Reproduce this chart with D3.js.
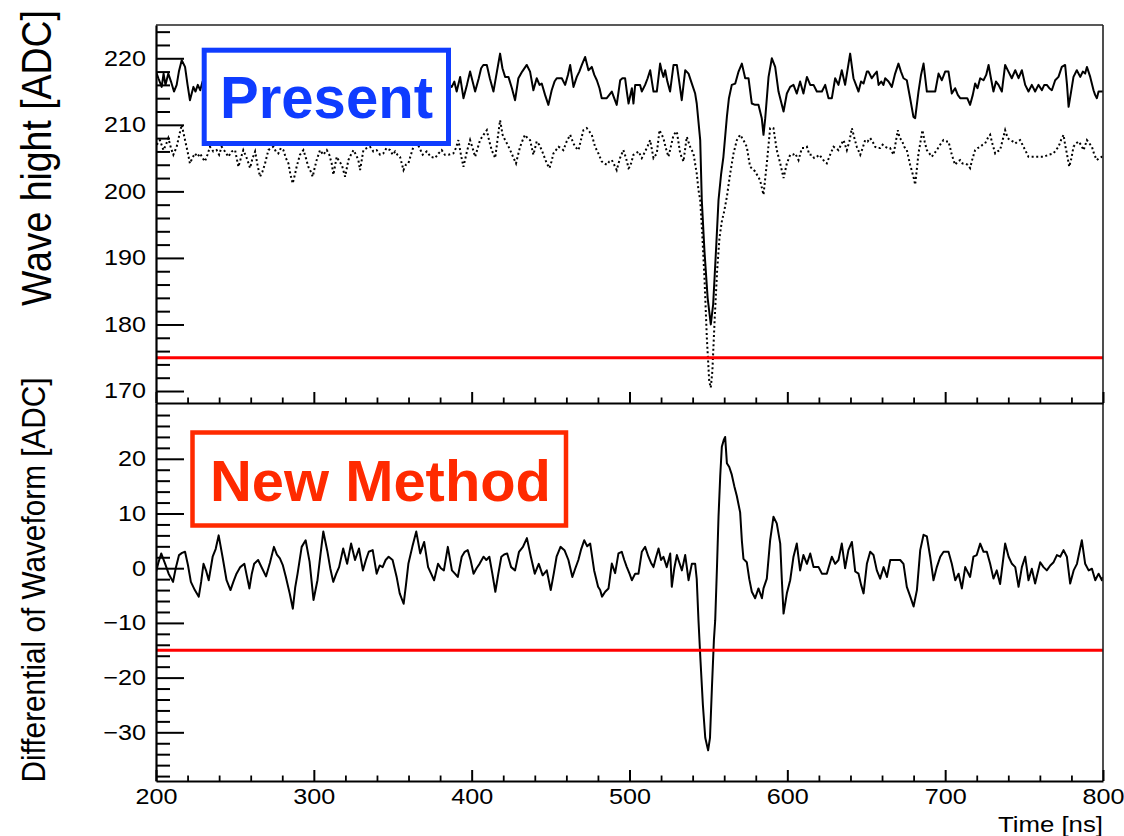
<!DOCTYPE html>
<html><head><meta charset="utf-8">
<script src="https://cdn.jsdelivr.net/npm/d3@7"></script>
<style>
body{margin:0;background:#fff}
svg{display:block}
text{font-family:"Liberation Sans",Arial,Helvetica,sans-serif;fill:#000}
</style>
</head><body>
<svg id="chart" width="1124" height="836"></svg>
<script>
// ---------------- data ----------------
// time [ns], wave height [ADC] : solid waveform (upper panel)
const waveSolid = [
[200,218],[201.5,217],[203.6,215.7],[204.8,217.7],[206,216],[207.8,217.7],[209.5,216.5],[211.4,215],[213.1,216],[214.5,218],
[216.3,219.7],[218.4,218.7],[220,216],[221.5,213.7],[223.7,215.7],[225,215],[226.5,216],[228,215.2],[229.5,216.5],
[231,215],[234,217],[237,218],[240,216],[243,214.5],[246,216],[249,218.5],[252,217],[255,215],[258,216],[261,218],[264,219],
[267,216.5],[270,214],[273,215.5],[276,217],[279,218],[282,216],[285,213.5],[288,215],[291,217.5],[294,219],[297,217],[300,215],
[303,216.5],[306,218.5],[309,217],[312,214.5],[315,216],[318,218],[321,217],[324,215.5],[327,216.5],[330,218],[333,216],[336,214],
[339,215.5],[342,217.5],[345,218.5],[348,216.5],[351,215],[354,216],[357,218],[360,219],[363,217],[366,215],[369,216],[372,217.5],
[375,216],[378,214.5],[381,216],[384,217],[386,216],
[387.4,215.7],[389,216.5],[390.5,215],[392.7,217.2],[394.8,214],[397,216],[399,218],[400.6,216.5],[402.2,215],[404.5,217],
[406,218.5],[407.4,219],[409.6,219],[411.5,217],[413.8,215],[416,218],[418,220.7],[419.5,218.5],[421.2,217.2],[423.3,217.2],
[425.5,215.5],[427.5,213.7],[429.6,217],[432,218],[434.9,219],[437,218],[439.1,215.2],[441.2,217],[443,216],[444.4,216.2],
[446.5,214.5],[448.6,213],[450.7,215.2],[452.5,216.5],[453.9,217],[455.5,217],[457.1,217],[459.2,216],[461,217.5],[462.4,219],
[464.5,215.7],[466.6,217.2],[468.2,218],[469.8,219],[471.9,220.2],[474,218.2],[476.1,218.7],[477.7,217.5],[479.3,216.7],[481,215.5],
[482.4,214],[484,214],[485.6,214],[487.2,214.5],[488.8,215],[490.3,214],[491.9,213],[494.1,216.7],[495.5,217],[497.2,217],
[498.3,215],[499.4,213.2],[501.5,215.5],[502.5,213.2],[503.6,216],[505.5,216],[506.7,216],[507.8,215],[509.9,216],[511.5,217],
[513.1,218.2],[514.2,216.5],[515.2,215],[517.3,215],[519.4,219.2],[520.5,218],[521.5,217.2],[522.6,218.2],[524,216.5],[525.7,215],
[527.9,219],[530,219],[531.5,216.5],[533.1,213.7],[535.3,218.2],[537.4,217.7],[539.5,216.2],[541.6,214.7],[542.6,213.2],[544.8,207.7],
[545.8,198.7],[547.5,191],[549.5,184],[551.5,180],[553,183],[555,192],[556.4,198.7],[558,202.5],[559.5,205.2],[561.7,211.2],
[563,214],[564.8,216],[567,216.2],[569.1,218],[571.2,219.2],[573.3,217],[575.4,217],[577.5,213.2],[579.6,213],[581.7,213],
[583.8,211],[584.9,208.5],[586,211],[588.1,217.2],[590.2,220],[592.3,218.7],[594.4,215],[596,213.5],[597.6,212],[599.7,214.7],
[601.8,215.7],[603.9,216],[606,214.7],[608.1,216.5],[610.2,214.7],[612.4,217.2],[614.5,216],[616.6,216],[618.7,215],[621.9,215],
[624,216],[626.1,214],[628.2,214],[630.3,217],[632.4,216],[634.5,218.2],[636.6,216],[639.8,220.7],[641.9,217],[643.5,216],
[645.1,215],[646.7,216.5],[648.3,216.2],[650.4,218],[651.4,218],[653.5,217],[655,217.5],[656.7,218],[657.8,216],[659.5,216.5],
[660.9,216],[662,217],[664.1,216.5],[666.2,215.7],[668.3,217.7],[670.4,219.2],[672,218],[673.6,217],[675.7,216.7],[677.8,214],
[679.9,211.2],[681,211],[683.1,215],[684.7,217.5],[686.3,219.2],[688.4,215],[691.5,215],[693.7,215],[695.8,217.7],[697.9,216.7],
[700,218],[702.1,218],[704.2,214.7],[706.3,215.5],[708,214.5],[709.5,214],[712.7,214],[714,214],[715.8,213],[717.5,214.5],
[719,216.2],[720.5,215.5],[722.2,217],[724.3,216.7],[726,217.5],[727.5,219],[729,217],[730.6,215],[732.2,216.5],[733.8,216],
[735.9,215],[738,219],[740.1,218],[742.2,217],[744.4,218.2],[746.5,217],[748.6,218.2],[750.7,216],[752.8,215],[754.9,216],
[757,215],[759.1,216],[761.3,215.2],[762.8,216],[764.4,216],[766,215.5],[767.6,215.2],[769.7,216.7],[771.8,217.2],[773.9,218.7],
[776,219],[777.2,216],[778.2,212.7],[779.8,215],[781.3,217.2],[783.4,218.2],[785.6,217.2],[787.2,218],[788.7,217.7],[789.8,218.7],
[791.9,217.2],[794,215.2],[795,214.5],[796.1,214],[797.2,215],[798.2,215],[800,215]
];
// time [ns], wave height [ADC] : dotted waveform (upper panel)
const waveDotted = [
[200.5,207],[202.5,207.7],[204.7,206.2],[206.3,207],[207.8,208],[209.5,206.5],[211,205.5],[213.1,206.7],[214.8,208.5],[216.3,210],
[218.4,207.7],[220,206],[221.5,204.2],[223,205],[224.7,205.7],[226.3,205.2],[227.9,205.7],[229.5,205],[231,204.5],[232.6,205.5],
[234.2,206.7],[236.3,206],[238.4,206.2],[240,205.5],[241.6,206.7],[243.7,206],[245.8,205.2],[248,206],[250.1,206.2],[252.2,203.7],
[253.8,205],[255.3,206.2],[257.5,205],[259.6,203.5],[261.2,205],[262.8,206],[264.3,204],[265.9,202.2],[267.5,203],[269.1,204.2],
[271.2,206.2],[272.8,206.5],[274.4,206.7],[275.9,206],[277.5,205.7],[279.1,206.5],[280.7,206.2],[282.3,205],[283.9,204.2],[285.2,202.5],
[286.6,201.2],[288,202.5],[289.1,203.7],[291.2,205.5],[293.4,206.2],[295,205],[296.5,203.7],[298,203],[299.3,202.2],[300.5,203.5],
[301.8,204.7],[303.9,206.2],[306,205.5],[308.2,206.2],[309.8,205.5],[311.3,204.2],[312.4,202.5],[314.5,205.2],[316.1,204.5],[317.7,204],
[319.8,202.2],[321.9,204.7],[323.5,205.5],[325.1,206.2],[326.7,205.5],[328.2,204.7],[329.3,203.2],[331.4,206.2],[333.5,206.5],[335.6,206.7],
[337.7,206],[339.8,206.2],[342,205.5],[344,205.7],[346,206.5],[348.3,206.2],[350,205.5],[351.5,206],[353,205.5],[354.6,205.2],
[356.8,203.2],[358.3,204],[359.9,204.2],[361.5,205.5],[363.1,206.7],[365,207.5],[367,206.5],[369,205.5],[371.5,206],[374,205.2],
[376.8,205],[379,205.7],[381,206.2],[383,205.5],[385.3,205.5],[388.4,205.7],[390,206.5],[391.6,207.7],[393.2,205.5],[394.8,203.7],
[397,206],[399,207.7],[400.6,206.5],[402.2,205.2],[403.8,206.5],[405.3,207.7],[407.5,208.5],[409.6,209.2],[411.2,207.5],[412.7,206.2],
[414.9,205],[416.5,208],[418,210.7],[419.6,208.5],[421.2,207.7],[422.8,207],[424.4,206.2],[426.2,205.2],[428.1,204.2],[429.4,205.5],
[430.7,206.7],[432.3,207.7],[433.8,208.5],[435.4,208],[437,207.7],[439.1,205.5],[441.2,207.5],[442.8,207],[444.4,206.2],[446,205.2],
[447.6,204.2],[449.3,203.5],[450.6,204.5],[451.8,205.7],[453.4,206.2],[455,206.7],[456.5,206.5],[458.1,206.2],[460.2,207.5],[462.4,208.5],
[464,207.5],[465.5,206.7],[467.7,206.2],[469.2,207.7],[470.8,209.2],[472.9,209.5],[474.5,209],[476.1,208.5],[478.2,206.7],[480.3,205.7],
[482.4,204.5],[484,204.2],[485.6,204],[487.2,204.5],[488.8,204.7],[490.3,204],[491.9,203.2],[494,205],[496.1,206.2],[497.8,205],
[499.4,203.5],[500.4,203.7],[502.5,205.5],[504,205.7],[505.7,206],[507.8,205],[509.9,206],[511.5,206.8],[513.1,207.7],[515.2,205],
[517.3,205.7],[519,209.2],[521.5,208],[523,206.5],[524.7,205.2],[526.3,206.8],[527.9,208.5],[530,209],[532.1,205.7],[534.2,204.5],
[536.3,208.2],[538.4,206.7],[540.5,205.7],[542.6,202.7],[543.7,200.2],[544.8,198.7],[546,194],[547.5,187],[549,178],[550.5,171.5],
[551.5,170.5],[552.5,173],[554,181],[555.5,188],[557,193],[558.5,195.5],[560,197],[561.7,199.2],[563.8,202.7],[565.9,205.7],
[568,207.7],[570.1,208.5],[572.2,207.7],[574.3,206.7],[576.4,203.7],[579.6,203],[582.7,201.7],[584.9,199.5],[587,204.2],[589.1,209.5],
[591.2,209.5],[593.3,206.2],[595.5,204.2],[597.6,202],[599.7,204.2],[601.8,205.5],[603.5,205.5],[605,205.7],[607.1,204.7],[609.2,206.5],
[610.8,206.5],[612.4,206.7],[614,205.5],[615.5,205.5],[617,205],[618.7,205.2],[620.3,205.5],[621.9,205],[623.5,204.5],[625,204.2],
[627.1,205.5],[629.3,206.7],[630.8,206.5],[632.4,206.2],[634,207],[635.6,207.7],[637.7,206.2],[639.3,207.5],[640.9,209.5],[642.5,208],
[644,206.7],[646.2,205.5],[647.7,206.5],[649.3,207.7],[650.9,207.5],[652.5,208],[654,207.5],[655.6,206.7],[657.2,206.5],[658.8,206.5],
[660.4,207],[662,206.7],[663.6,206.5],[665.1,206.5],[667.3,205.5],[670,209.2],[671.2,208],[672.5,207.7],[674.1,206.7],[675.7,206.2],
[677.8,204],[679.9,202.2],[681,201],[683.1,205.7],[684.4,207.5],[685.6,209.2],[687,207.5],[688.4,206.2],[690,205.7],[691.5,205.2],
[693.1,205.7],[694.7,206.2],[696.8,207],[698.9,207.7],[700.5,207.5],[702.1,207.5],[703.2,206.5],[704.2,205.5],[706.3,204],[708,204.5],
[709.5,204.7],[711,204.2],[712.7,204.2],[714.3,204],[715.8,203.5],[717.4,205],[719,206.2],[720.6,206.5],[722.2,206.7],[723.7,207],
[725.3,207.2],[727,208],[728.5,208.5],[730.1,207],[731.7,205.7],[733.2,206],[734.8,206.2],[736.4,207.7],[738,209.2],[739.6,208],
[741.2,207.7],[742.8,207.5],[744.4,207.2],[746,207.5],[747.5,207.7],[749,207],[750.7,206.2],[752.8,205.2],[756,205.2],[759.1,205.2],
[762.3,205.2],[765.5,205.5],[768.6,205.7],[770.2,206.2],[771.8,206.7],[773.4,207.7],[775,208.5],[776,207],[777.1,205.7],[778.6,203.7],
[780,205],[781.3,206.7],[782.9,207.2],[784.5,207.5],[786,207],[787.7,206.2],[789.8,207.7],[791.4,207.2],[793,206.7],[794.5,205.5],
[796.1,204.7],[797.7,205],[799.3,205.2],[800,205.2]
];
// time [ns], differential of waveform [ADC] (lower panel)
const waveDiff = [
[200,-0.7],[201.5,1],[203.3,2.7],[205.8,0.8],[208,-1],[210.8,-2.5],[212.5,0],[214.6,2.4],[216.5,2.8],[218.4,3],
[220.3,0.5],[222.1,-2.5],[224.6,-4],[227.1,-5.2],[228.6,-2.5],[230.1,0.8],[231.8,-0.5],[233.4,-2.2],[235.9,2.1],[237.8,3.5],
[239.7,6],[242.2,2],[244.7,-2.2],[247.2,-4],[249,-2.5],[251,-1],[253.4,0.2],[256,0.8],[257.6,-1.5],[259.2,-3.7],
[260.7,-1],[262.2,0.8],[264.7,1.5],[267.2,0],[269.7,-1.5],[272.2,1],[274.7,3.9],[276.6,2.5],[278.5,1.8],[280.4,0.5],
[282.2,-1.5],[284.7,-4.6],[286.7,-7.4],[288.2,-3.5],[289.7,-1],[292.3,3.9],[294.8,5.1],[297.3,1.2],[299.8,-5.8],[302.3,-2.2],
[304.2,2.5],[306,6.7],[308.5,3.2],[310.4,0],[312.3,-2.5],[314.2,-1],[316,0.2],[318.6,3.6],[321.1,0.8],[323.6,4.5],
[326.1,1.5],[328.6,3.6],[331.1,-0.4],[333,1.5],[334.8,3],[337.3,3.3],[339.8,-1],[341.7,0.5],[343.6,0.2],[345.5,1.5],
[347.4,2.1],[349.9,1.5],[352.4,-1.5],[354.4,-4.6],[356.9,-6.5],[358.4,-3],[359.9,0.8],[362.4,3.9],[364.9,6.7],[367.4,2.7],
[369.9,4.8],[372.4,0.2],[374.3,-1],[376.2,-2.2],[378.7,0.8],[380.5,0],[382.4,-0.4],[384.9,3.9],[387.5,-0.4],[389.4,-1],
[391.2,-1.6],[393.7,2.1],[395.6,3],[397.5,3.3],[399.3,1.5],[401.2,-1],[403.1,0],[405,0.8],[407.5,2.1],[409.3,1.5],
[411.2,2.1],[413.1,-1],[415,-4.3],[416.9,-1],[418.8,2.1],[420.6,2.5],[422.5,2.7],[425,0.2],[427.5,-0.4],[430,3],
[432.5,3.9],[435,5.5],[437.5,2.1],[440,-1],[442.5,0.8],[445,-1.3],[447.6,-0.4],[450.1,-4],[452,-1],[453.8,2.1],
[456.3,3.9],[458.8,3.3],[461.3,1.5],[463.8,-1.6],[465.7,0],[467.6,1.5],[469.4,3.5],[471.3,5.1],[473.2,4],[475.1,4.5],
[477.6,-0.4],[480.1,-3.4],[481.4,-4],[482.6,-5.2],[484.6,-4.3],[486.7,-3.7],[488.8,0.85],[490.9,-0.9],[493,2.7],[495.1,3],
[496.7,1.5],[498.3,0.2],[500,-1],[501.5,-2.2],[503.6,-1],[505.7,-1],[507.8,3],[509.9,3.9],[512,2.1],[513.6,1],
[515.2,0.2],[516.8,2],[518.4,3.6],[520,1.5],[521.5,2.1],[523.6,0.2],[525.8,2.7],[526.8,-3.4],[528.4,0],[530,2.4],
[531.6,1],[533.2,-0.4],[535.3,2.4],[536.4,0],[537.4,-2.2],[539.5,0.8],[541.6,0.8],[542.6,-2],[543.7,-9.5],[545,-17],
[546.5,-25],[548,-31],[549.8,-33.3],[551,-31],[552.2,-22],[553.5,-13],[554.3,-9.5],[555.4,0],[556.4,9.4],[557.5,17],
[558.5,22.2],[559.8,23.5],[560.6,24],[561.7,19.2],[563.2,18.5],[564.8,17.1],[566.4,15],[568,13.2],[570.1,10.2],[571.2,5],
[572.2,1.7],[574.3,1.1],[575.9,-2],[577.5,-4.3],[579.6,-5.5],[581.7,-3.7],[583.9,-5.5],[584.9,-3.7],[587,-1.9],[589.1,5.1],
[591.2,9.4],[593.3,8.2],[595.5,4.5],[596.5,-2],[597.6,-8.3],[599.7,-4.6],[601.8,-2.2],[603.9,2.1],[606,4.5],[608.1,-0.4],
[610.2,2.4],[612.4,0.8],[614.5,2.7],[616.6,0.2],[619.8,0.2],[621.9,-1],[625,-1],[628.2,2.1],[630.3,0.8],[632.4,1.5],
[634.5,4.5],[636.6,0],[638.7,3.3],[640.9,4.8],[643,-0.6],[645.1,-1],[646.7,-3],[648.3,-4.6],[650.4,0.8],[652.5,3],
[654.6,2.4],[656.7,-0.4],[658.8,-1.9],[661,0.2],[663.1,-1.6],[665.2,1.5],[667.3,1.5],[669.4,1.5],[671.5,1.5],[673.6,0.8],
[675.7,-3.4],[677.9,-5.2],[680,-7],[682.1,-4],[684.2,3.3],[686.3,6.1],[688.4,5.8],[690.5,2.1],[692.6,-2.2],[694.7,0.2],
[696.9,2.1],[699,3],[702.1,3],[704.2,0.8],[706.4,-2.2],[708.5,-1],[710.6,-3.7],[712.7,0.2],[715.8,-1.6],[717.9,2.1],
[720,2.4],[722.2,4.5],[724.3,3],[726.4,3],[728.5,0.8],[730.6,-1.9],[732.7,-0.4],[734.8,-2.9],[738,4.5],[740.2,2.1],
[742.3,0.8],[744.4,0.2],[746.5,-3.4],[748.6,0.2],[750.7,2.1],[752.8,-2.2],[754.9,-0.1],[757,-2.8],[760.2,1.1],[762.3,0.2],
[764.4,-0.4],[766.6,0.5],[768.7,1.1],[770.8,2.4],[772.9,2.1],[775,3.3],[777.1,2.1],[779.2,-2.8],[781.4,-0.4],[783.5,0.8],
[786.6,5.1],[788.7,0.8],[790.9,-0.4],[793,-0.1],[795.1,-2.2],[797.2,-1],[799.3,-2.2],[800,-1.6]
];
const thresholds = [175, -15];           // red threshold lines: upper, lower
const xTickValues = [200,300,400,500,600,700,800];
const yTickTop = [170,180,190,200,210,220];
const yTickBottom = [-30,-20,-10,0,10,20];
const xDomain = [200, 800];
const yDomainTop = [168.2, 225];
const yDomainBottom = [-38.9, 30.2];
const labels = {
  yTop: "Wave hight [ADC]",
  yBottom: "Differential of Waveform [ADC]",
  x: "Time [ns]",
  boxTop: "Present",
  boxBottom: "New Method"
};

// ---------------- layout ----------------
const L = 156, R = 1103, T1 = 25, B1 = 403, T2 = 403, B2 = 781;
const STRETCH = 1.16;

const svg = d3.select("#chart");
const x = d3.scaleLinear().domain(xDomain).range([L, R]);
const yTop = d3.scaleLinear().domain(yDomainTop).range([B1, T1]);
const yBot = d3.scaleLinear().domain(yDomainBottom).range([B2, T2]);

const defs = svg.append("defs");
defs.append("clipPath").attr("id","clipTop").append("rect").attr("x",L).attr("y",T1).attr("width",R-L).attr("height",B1-T1);
defs.append("clipPath").attr("id","clipBot").append("rect").attr("x",L).attr("y",T2).attr("width",R-L).attr("height",B2-T2);

function range(a,b,s){const r=[];for(let v=a;v<=b+1e-9;v+=s)r.push(+v.toFixed(6));return r;}

// ---------- lines ----------
const lineTop = d3.line().x(d=>x(d[0])).y(d=>yTop(d[1]));
const lineBot = d3.line().x(d=>x(d[0])).y(d=>yBot(d[1]));

const gTop = svg.append("g").attr("clip-path","url(#clipTop)");
gTop.append("path").datum(waveDotted).attr("d",lineTop)
  .attr("fill","none").attr("stroke","#000").attr("stroke-width",2)
  .attr("stroke-dasharray","2,2.6");
gTop.append("path").datum(waveSolid).attr("d",lineTop)
  .attr("fill","none").attr("stroke","#000").attr("stroke-width",2).attr("stroke-linejoin","round");
gTop.append("line").attr("x1",x(xDomain[0])).attr("x2",x(xDomain[1]))
  .attr("y1",yTop(thresholds[0])).attr("y2",yTop(thresholds[0]))
  .attr("stroke","#ff0000").attr("stroke-width",3);

const gBot = svg.append("g").attr("clip-path","url(#clipBot)");
gBot.append("path").datum(waveDiff).attr("d",lineBot)
  .attr("fill","none").attr("stroke","#000").attr("stroke-width",2).attr("stroke-linejoin","round");
gBot.append("line").attr("x1",x(xDomain[0])).attr("x2",x(xDomain[1]))
  .attr("y1",yBot(thresholds[1])).attr("y2",yBot(thresholds[1]))
  .attr("stroke","#ff0000").attr("stroke-width",3);

// ---------- frames ----------
const frame = svg.append("g").attr("fill","none").attr("stroke","#222").attr("stroke-width",1.6);
frame.append("line").attr("x1",L).attr("x2",R).attr("y1",T1).attr("y2",T1);
frame.append("line").attr("x1",R).attr("x2",R).attr("y1",T1).attr("y2",B2);

// ---------- axes ----------
function styleAxis(g){
  g.select(".domain").attr("stroke","#000").attr("stroke-width",2.2);
  g.selectAll(".tick line").attr("stroke","#000").attr("stroke-width",2);
  g.selectAll(".tick text").attr("font-size",21.7).attr("fill","#000")
    .attr("font-family",'"Liberation Sans",Arial,sans-serif');
}
// upper y
svg.append("g").attr("transform",`translate(${L},0)`)
  .call(d3.axisLeft(yTop).tickValues(range(170,224,2).filter(v=>v%10!==0)).tickSize(-14).tickSizeOuter(0).tickFormat(""))
  .call(g=>{g.select(".domain").remove();g.selectAll(".tick line").attr("stroke","#000").attr("stroke-width",2);});
svg.append("g").attr("class","ytxt").attr("transform",`translate(${L},0)`)
  .call(d3.axisLeft(yTop).tickValues(yTickTop).tickSize(-28).tickSizeOuter(0).tickPadding(10))
  .call(styleAxis);
// lower y
svg.append("g").attr("transform",`translate(${L},0)`)
  .call(d3.axisLeft(yBot).tickValues(range(-38,30,2).filter(v=>v%10!==0)).tickSize(-14).tickSizeOuter(0).tickFormat(""))
  .call(g=>{g.select(".domain").remove();g.selectAll(".tick line").attr("stroke","#000").attr("stroke-width",2);});
svg.append("g").attr("class","ytxt").attr("transform",`translate(${L},0)`)
  .call(d3.axisLeft(yBot).tickValues(yTickBottom).tickSize(-28).tickSizeOuter(0).tickPadding(10))
  .call(styleAxis);
// x axes (upper panel bottom, no labels; lower panel bottom with labels)
[B1, B2].forEach((yy,i)=>{
  svg.append("g").attr("transform",`translate(0,${yy})`)
    .call(d3.axisBottom(x).tickValues(range(220,780,20).filter(v=>v%100!==0)).tickSize(-5.5).tickSizeOuter(0).tickFormat(""))
    .call(g=>{g.select(".domain").remove();g.selectAll(".tick line").attr("stroke","#000").attr("stroke-width",1.8);});
  const ax = d3.axisBottom(x).tickValues(xTickValues).tickSize(-11).tickSizeOuter(0).tickPadding(8);
  if(i===0) ax.tickFormat("");
  svg.append("g").attr("class","xtxt").attr("transform",`translate(0,${yy})`).call(ax).call(styleAxis);
});

// horizontal stretch of tick labels (the reference font is wide)
svg.selectAll(".ytxt .tick text, .xtxt .tick text").each(function(){
  const w = this.getComputedTextLength();
  if(w>0) d3.select(this).attr("textLength", w*STRETCH).attr("lengthAdjust","spacingAndGlyphs");
});

// ---------- axis titles ----------
svg.append("text").text(labels.yTop)
  .attr("transform",`translate(51,158) scale(${STRETCH},1) rotate(-90)`)
  .attr("text-anchor","middle").attr("font-size",36)
  .attr("textLength",296).attr("lengthAdjust","spacingAndGlyphs");
svg.append("text").text(labels.yBottom)
  .attr("transform",`translate(45,580) scale(${STRETCH},1) rotate(-90)`)
  .attr("text-anchor","middle").attr("font-size",29)
  .attr("textLength",405).attr("lengthAdjust","spacingAndGlyphs");
svg.append("text").text(labels.x)
  .attr("x",R).attr("y",832).attr("text-anchor","end").attr("font-size",21.7)
  .attr("textLength",105).attr("lengthAdjust","spacingAndGlyphs");

// ---------- annotation boxes ----------
const blue = "#0f3cff", red = "#ff2a00";
svg.append("rect").attr("x",204.2).attr("y",50.2).attr("width",244.3).attr("height",93.3)
  .attr("fill","#fff").attr("stroke",blue).attr("stroke-width",5);
svg.append("text").text(labels.boxTop).attr("x",220).attr("y",118)
  .attr("font-size",60).attr("font-weight","bold").attr("fill",blue).style("fill",blue)
  .attr("textLength",213).attr("lengthAdjust","spacingAndGlyphs");
svg.append("rect").attr("x",192.5).attr("y",432.5).attr("width",373.5).attr("height",93)
  .attr("fill","#fff").attr("stroke",red).attr("stroke-width",4.5);
svg.append("text").text(labels.boxBottom).attr("x",210).attr("y",501)
  .attr("font-size",58).attr("font-weight","bold").style("fill",red)
  .attr("textLength",341).attr("lengthAdjust","spacingAndGlyphs");
</script>
</body></html>
